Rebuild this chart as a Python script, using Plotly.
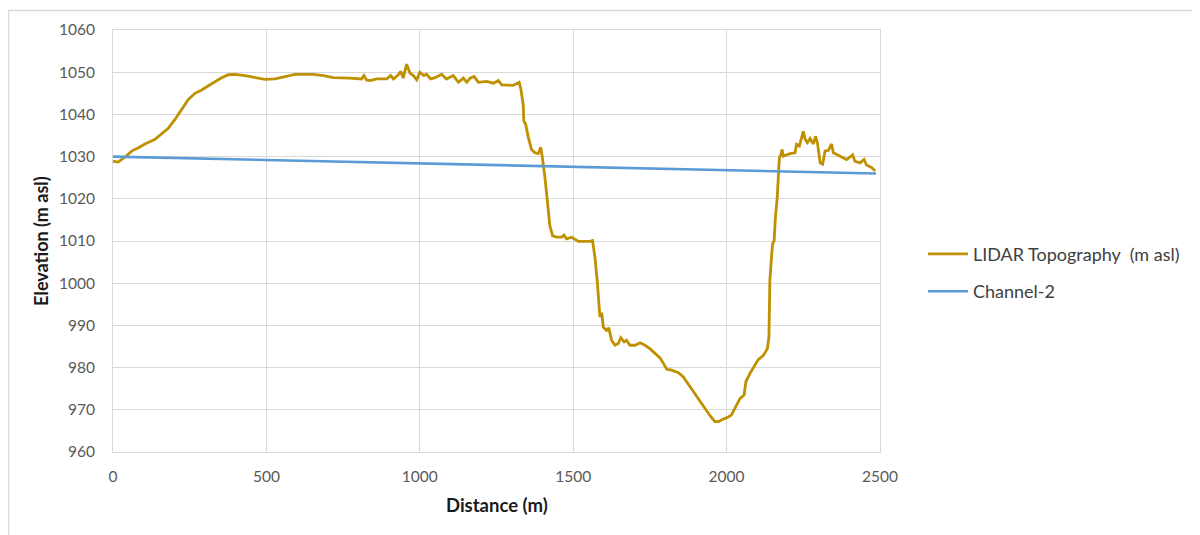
import plotly.graph_objects as go

# LIDAR topography profile (distance m, elevation m asl)
lidar_dist = [0, 17, 39, 61, 83, 104, 137, 159, 180, 202, 224, 245, 267, 289, 311, 332, 354, 376,
              398, 430, 463, 495, 528, 561, 593, 626, 653, 686, 718, 772, 810, 818, 827, 838,
              860, 892, 905, 914, 930, 938, 946, 957, 968, 979, 990, 1000, 1013, 1022, 1035,
              1050, 1071, 1087, 1109, 1126, 1142, 1153, 1164, 1177, 1191, 1218, 1240, 1256,
              1267, 1305, 1324, 1329, 1337, 1339, 1345, 1353, 1364, 1375, 1386, 1394, 1399,
              1408, 1416, 1424, 1433, 1446, 1462, 1470, 1478, 1495, 1517, 1555, 1563, 1571,
              1579, 1587, 1593, 1598, 1609, 1616, 1625, 1636, 1647, 1655, 1666, 1674, 1685,
              1702, 1718, 1734, 1750, 1767, 1783, 1794, 1805, 1821, 1843, 1859, 1881, 1902,
              1924, 1946, 1962, 1973, 1989, 2006, 2016, 2027, 2044, 2057, 2063, 2076, 2093,
              2103, 2120, 2133, 2138, 2139, 2141, 2147, 2150, 2155, 2159, 2165, 2168, 2172,
              2177, 2181, 2185, 2207, 2223, 2228, 2237, 2245, 2250, 2256, 2263, 2272, 2283,
              2290, 2296, 2305, 2313, 2321, 2332, 2342, 2348, 2370, 2391, 2411, 2418, 2435,
              2448, 2456, 2473, 2484]
lidar_elev = [1028.9, 1028.7, 1029.9, 1031.3, 1032.1, 1033.0, 1034.1, 1035.4, 1036.7, 1038.8,
              1041.1, 1043.5, 1045.0, 1045.8, 1046.8, 1047.8, 1048.7, 1049.4, 1049.5, 1049.2,
              1048.8, 1048.3, 1048.4, 1049.0, 1049.5, 1049.5, 1049.5, 1049.2, 1048.7, 1048.6,
              1048.4, 1049.2, 1048.1, 1048.0, 1048.4, 1048.4, 1049.2, 1048.4, 1049.4, 1050.2,
              1048.6, 1051.9, 1049.8, 1049.2, 1048.2, 1050.0, 1049.2, 1049.5, 1048.4, 1048.7,
              1049.5, 1048.4, 1049.2, 1047.6, 1048.6, 1047.6, 1048.6, 1049.0, 1047.6, 1047.8,
              1047.4, 1048.0, 1047.0, 1046.9, 1047.6, 1046.2, 1042.3, 1038.4, 1037.7, 1034.8,
              1031.7, 1030.9, 1030.7, 1032.2, 1030.1, 1025.0, 1018.7, 1013.6, 1011.2, 1010.9,
              1010.9, 1011.4, 1010.5, 1010.9, 1009.9, 1009.9, 1010.1, 1006.1, 999.9, 992.0,
              993.0, 989.6, 988.8, 989.4, 986.5, 985.3, 985.7, 987.1, 986.1, 986.5, 985.3,
              985.3, 985.9, 985.3, 984.5, 983.3, 982.3, 981.0, 979.6, 979.4, 978.8, 977.8,
              975.5, 973.1, 970.8, 968.6, 967.2, 967.2, 967.8, 968.3, 968.8, 970.4, 972.7,
              973.5, 976.7, 978.6, 980.6, 981.9, 982.9, 984.5, 987.3, 993.6, 1000.6, 1006.9,
              1009.3, 1010.1, 1015.6, 1020.3, 1025.0, 1029.7, 1030.5, 1031.7, 1030.1, 1030.7,
              1030.9, 1032.9, 1032.5, 1034.4, 1036.0, 1034.1, 1033.3, 1034.3, 1033.0, 1034.8,
              1033.3, 1028.5, 1028.2, 1031.3, 1031.5, 1033.0, 1030.9, 1030.1, 1029.3, 1030.4,
              1028.9, 1028.5, 1029.3, 1028.0, 1027.4, 1026.6]

# Channel-2 water surface
channel_dist = [0, 250, 500, 750, 1000, 1250, 1500, 1750, 2000, 2250, 2487]
channel_elev = [1030.0, 1029.6, 1029.2, 1028.8, 1028.4, 1028.0, 1027.6, 1027.2, 1026.8, 1026.4, 1026.0]

x_ticks = [0, 500, 1000, 1500, 2000, 2500]
y_ticks = [960, 970, 980, 990, 1000, 1010, 1020, 1030, 1040, 1050, 1060]

FONT = "Lato, 'Open Sans', sans-serif"
GRID = "#D9D9D9"

fig = go.Figure()
fig.add_trace(go.Scatter(x=lidar_dist, y=lidar_elev, mode="lines",
                         name="LIDAR Topography \u00a0(m asl)", legendgroup="a",
                         line=dict(color="#BF9000", width=2.8)))
fig.add_trace(go.Scatter(x=channel_dist, y=channel_elev, mode="lines",
                         name="Channel-2", legendgroup="b",
                         line=dict(color="#5B9BD5", width=2.6)))

fig.update_layout(
    width=1200, height=535,
    margin=dict(l=105, r=328, t=20, b=91),
    paper_bgcolor="white", plot_bgcolor="white",
    font=dict(family=FONT, color="#595959", size=15.5),
    showlegend=True,
    legend=dict(x=1.056, y=0.425, xanchor="left", yanchor="middle",
                font=dict(family=FONT, size=18, color="#404040"),
                tracegroupgap=11, itemwidth=40, bgcolor="rgba(0,0,0,0)"),
    xaxis=dict(range=[0, 2500], tickvals=x_ticks, ticktext=[str(v) for v in x_ticks],
               showgrid=True, gridcolor=GRID, gridwidth=1, zeroline=False,
               showline=True, linecolor=GRID, linewidth=1, mirror=True,
               ticks="", ticklabelstandoff=10, tickfont=dict(size=15.5, color="#595959")),
    yaxis=dict(range=[960, 1060], tickvals=y_ticks, ticktext=[str(v) for v in y_ticks],
               showgrid=True, gridcolor=GRID, gridwidth=1, zeroline=False,
               showline=True, linecolor=GRID, linewidth=1, mirror=True,
               ticks="", ticklabelstandoff=14, tickfont=dict(size=15.5, color="#595959")),
    annotations=[
        dict(text="<b>Distance (m)</b>", xref="paper", yref="paper", x=0.5, y=-0.125,
             xanchor="center", yanchor="middle", showarrow=False,
             font=dict(family=FONT, size=18.5, color="#1a1a1a")),
        dict(text="<b>Elevation (m asl)</b>", xref="paper", yref="paper", x=-0.094, y=0.5,
             xanchor="center", yanchor="middle", showarrow=False, textangle=-90,
             font=dict(family=FONT, size=18, color="#1a1a1a")),
    ],
    shapes=[
        dict(type="line", xref="paper", yref="paper", x0=-0.1362, x1=1.45, y0=1.046, y1=1.046,
             line=dict(color=GRID, width=1.5)),
        dict(type="line", xref="paper", yref="paper", x0=-0.1362, x1=-0.1362, y0=1.046, y1=-0.25,
             line=dict(color=GRID, width=1.5)),
    ],
)

fig.write_html("out.html")
